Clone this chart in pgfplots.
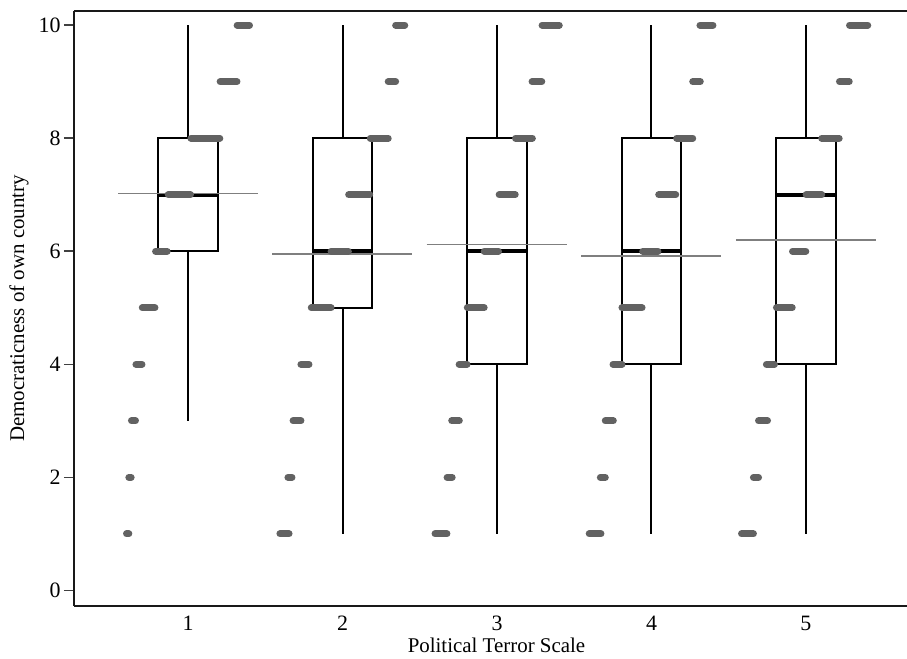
\documentclass[border=0pt]{standalone}
\usepackage{fontspec}
\setmainfont{Liberation Serif}
\usepackage{pgfplots}
\pgfplotsset{compat=1.18}
\usepgfplotslibrary{statistics}
\usepackage{pgfplotstable}
\definecolor{dotgray}{HTML}{626262}
\definecolor{meangray}{HTML}{7F7F7F}

% jittered dots: each value is one run of dots, written as a segment x1--x2 at y
\pgfplotstableread{
x y
0.602 1
0.617 1
nan nan
0.617 2
0.632 2
nan nan
0.634 3
0.660 3
nan nan
0.663 4
0.702 4
nan nan
0.704 5
0.786 5
nan nan
0.790 6
0.865 6
nan nan
0.872 7
1.016 7
nan nan
1.019 8
1.206 8
nan nan
1.208 9
1.317 9
nan nan
1.318 10
1.398 10
}\dotsone
\pgfplotstableread{
x y
1.595 1
1.654 1
nan nan
1.647 2
1.673 2
nan nan
1.680 3
1.731 3
nan nan
1.731 4
1.783 4
nan nan
1.798 5
1.926 5
nan nan
1.926 6
2.038 6
nan nan
2.040 7
2.176 7
nan nan
2.180 8
2.296 8
nan nan
2.296 9
2.344 9
nan nan
2.344 10
2.403 10
}\dotstwo
\pgfplotstableread{
x y
2.599 1
2.676 1
nan nan
2.677 2
2.710 2
nan nan
2.707 3
2.756 3
nan nan
2.755 4
2.806 4
nan nan
2.808 5
2.917 5
nan nan
2.917 6
3.010 6
nan nan
3.014 7
3.118 7
nan nan
3.120 8
3.229 8
nan nan
3.227 9
3.290 9
nan nan
3.292 10
3.403 10
}\dotsthree
\pgfplotstableread{
x y
3.597 1
3.673 1
nan nan
3.669 2
3.701 2
nan nan
3.701 3
3.753 3
nan nan
3.751 4
3.809 4
nan nan
3.809 5
3.939 5
nan nan
3.943 6
4.042 6
nan nan
4.047 7
4.157 7
nan nan
4.163 8
4.267 8
nan nan
4.267 9
4.316 9
nan nan
4.314 10
4.398 10
}\dotsfour
\pgfplotstableread{
x y
4.583 1
4.660 1
nan nan
4.660 2
4.693 2
nan nan
4.693 3
4.751 3
nan nan
4.744 4
4.796 4
nan nan
4.809 5
4.911 5
nan nan
4.913 6
4.999 6
nan nan
5.001 7
5.102 7
nan nan
5.102 8
5.215 8
nan nan
5.217 9
5.280 9
nan nan
5.282 10
5.400 10
}\dotsfive

\begin{document}
\begin{tikzpicture}
\begin{axis}[
    scale only axis,
    width=833bp, height=594.7bp,
    xmin=0.262, xmax=5.654,
    ymin=-0.27, ymax=10.25,
    axis lines*=left,
    axis line style={-, line width=2bp, color=black!90},
    xtick={1,2,3,4,5},
    ytick={0,2,4,6,8,10},
    tick align=outside,
    major tick length=10bp,
    xtick style={draw=none},
    ytick style={line width=1.6bp, color=black!75},
    tick label style={font=\fontsize{22}{26}\selectfont},
    xticklabel style={yshift=3.5bp},
    /pgf/number format/assume math mode=true,
    boxplot/draw direction=y,
    xlabel={Political Terror Scale},
    ylabel={Democraticness of own country},
    every axis x label/.style={at={(axis description cs:0.5072,0)}, anchor=base,
        yshift=-47bp, font=\fontsize{21}{25}\selectfont},
    every axis y label/.style={at={(axis description cs:-0.066,0.5)}, anchor=center,
        rotate=90, font=\fontsize{21}{25}\selectfont},
    clip=true,
]
% boxes (quartiles, median, whiskers)
\addplot[boxplot prepared={draw position=1, lower whisker=3, lower quartile=6,
    median=7, upper quartile=8, upper whisker=10, box extend=0.388, whisker extend=0,
    every median/.style={line width=4bp}}, draw=black, line width=2bp] coordinates {};
\addplot[boxplot prepared={draw position=2, lower whisker=1, lower quartile=5,
    median=6, upper quartile=8, upper whisker=10, box extend=0.388, whisker extend=0,
    every median/.style={line width=4bp}}, draw=black, line width=2bp] coordinates {};
\addplot[boxplot prepared={draw position=3, lower whisker=1, lower quartile=4,
    median=6, upper quartile=8, upper whisker=10, box extend=0.388, whisker extend=0,
    every median/.style={line width=4bp}}, draw=black, line width=2bp] coordinates {};
\addplot[boxplot prepared={draw position=4, lower whisker=1, lower quartile=4,
    median=6, upper quartile=8, upper whisker=10, box extend=0.388, whisker extend=0,
    every median/.style={line width=4bp}}, draw=black, line width=2bp] coordinates {};
\addplot[boxplot prepared={draw position=5, lower whisker=1, lower quartile=4,
    median=7, upper quartile=8, upper whisker=10, box extend=0.388, whisker extend=0,
    every median/.style={line width=4bp}}, draw=black, line width=2bp] coordinates {};
% group means
\addplot[meangray, line width=1.5bp] coordinates {(0.547,7.02) (1.450,7.02)};
\addplot[meangray, line width=1.5bp] coordinates {(1.545,5.95) (2.452,5.95)};
\addplot[meangray, line width=1.5bp] coordinates {(2.545,6.12) (3.452,6.12)};
\addplot[meangray, line width=1.5bp] coordinates {(3.545,5.92) (4.450,5.92)};
\addplot[meangray, line width=1.5bp] coordinates {(4.547,6.20) (5.453,6.20)};
% observations
\addplot[dotgray, line width=7bp, line cap=round, unbounded coords=jump] table {\dotsone};
\addplot[dotgray, line width=7bp, line cap=round, unbounded coords=jump] table {\dotstwo};
\addplot[dotgray, line width=7bp, line cap=round, unbounded coords=jump] table {\dotsthree};
\addplot[dotgray, line width=7bp, line cap=round, unbounded coords=jump] table {\dotsfour};
\addplot[dotgray, line width=7bp, line cap=round, unbounded coords=jump] table {\dotsfive};
% top frame line
\draw[line width=2bp, black!90] (rel axis cs:0,1) -- (rel axis cs:1,1);
\end{axis}
\pgfresetboundingbox
\path (-74bp,-53.3bp) rectangle (833bp,605.7bp);
\end{tikzpicture}
\end{document}
